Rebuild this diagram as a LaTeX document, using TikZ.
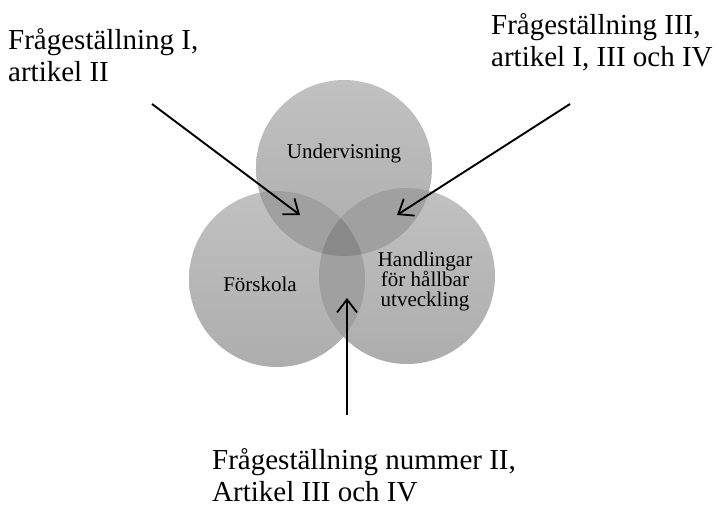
\documentclass[tikz,border=0pt]{standalone}
\usepackage{fontspec}
\setmainfont{Liberation Serif}
\usetikzlibrary{arrows.meta}

\definecolor{vennlight}{RGB}{193,193,193}
\definecolor{venndark}{RGB}{173,173,173}
\definecolor{lensgray}{RGB}{160,160,160}
\definecolor{coregray}{RGB}{137,137,137}

\begin{document}
\begin{tikzpicture}[
				x=1pt, y=-1pt,
				venn/.style={
					circle,
					draw=none,
					inner sep=0pt,
					minimum size=176pt,
					top color=vennlight,
					bottom color=venndark
				},
				lens/.style={
					fill=lensgray
				},
				core/.style={
					fill=coregray
				},
				setlabel/.style={
					font=\fontsize{21}{20}\selectfont,
					inner sep=0pt,
					align=center
				},
				question/.style={
					font=\fontsize{29}{32.5}\selectfont,
					inner sep=0pt,
					align=left,
					anchor=north west
				},
				pointer/.style={
					draw=black,
					line width=1.9pt,
					-{Straight Barb[length=13pt,width=20pt,line width=1.8pt]}
				}
			]

				\useasboundingbox (0,0) rectangle (719,508);

				\node[venn] (U) at (344,168) {};
				\node[venn] (F) at (277,279) {};
				\node[venn] (H) at (407,276) {};

				% overlaps
				\begin{scope}
					\clip (U.center) circle[radius=88pt];
					\fill[lens] (F.center) circle[radius=88pt];
					\fill[lens] (H.center) circle[radius=88pt];
				\end{scope}
				\begin{scope}
					\clip (F.center) circle[radius=88pt];
					\fill[lens] (H.center) circle[radius=88pt];
				\end{scope}
				\begin{scope}
					\clip (U.center) circle[radius=88pt];
					\clip (F.center) circle[radius=88pt];
					\fill[core] (H.center) circle[radius=88pt];
				\end{scope}

				\node[setlabel, anchor=base] (tU) at (344,158) {Undervisning};
				\node[setlabel, anchor=base] (tF) at (260,291) {Förskola};
				\node[setlabel, anchor=north] (tH) at (425,252)
					{Handlingar\\för hållbar\\utveckling};

				\node[question] (qI) at (8,28) {Frågeställning I,\\artikel II};
				\node[question] (qIII) at (491,13) {Frågeställning III,\\artikel I, III och IV};
				\node[question] (qII) at (212,448) {Frågeställning nummer II,\\Artikel III och IV};

				\coordinate (fromI) at (152,104);
				\coordinate (fromIII) at (570,104);
				\coordinate (fromII) at (347,415);
				\coordinate (lensUF) at (300,215);
				\coordinate (lensUH) at (397,215);
				\coordinate (lensFH) at (347,298);

				\draw[pointer]
					(fromI) -- (lensUF);

				\draw[pointer]
					(fromIII) -- (lensUH);

				\draw[pointer]
					(fromII) -- (lensFH);

			\end{tikzpicture}
\end{document}
